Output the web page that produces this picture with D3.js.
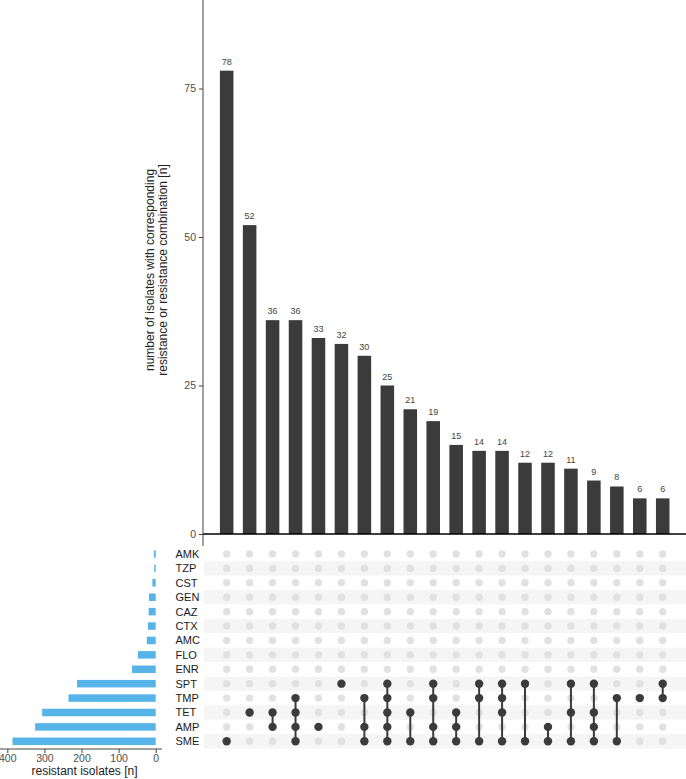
<!DOCTYPE html>
<html>
<head>
<meta charset="utf-8">
<script src="https://cdn.jsdelivr.net/npm/d3@7"></script>
<style>
  body { margin: 0; background: #fff; }
  svg { font-family: "Liberation Sans", Arial, sans-serif; }
</style>
</head>
<body>
<div id="chart"></div>
<script>
// sets, top to bottom in the matrix
let setNames = ["AMK", "TZP", "CST", "GEN", "CAZ", "CTX", "AMC", "FLO", "ENR", "SPT", "TMP", "TET", "AMP", "SME"];
let setSizes = [5, 4, 9, 18, 19, 21, 24, 48, 64, 212, 235, 306, 325, 386];

// intersections, left to right
let comboCounts = [78, 52, 36, 36, 33, 32, 30, 25, 21, 19, 15, 14, 14, 12, 12, 11, 9, 8, 6, 6];
let comboSets = [
  ["SME"],
  ["TET"],
  ["TET", "AMP"],
  ["TMP", "TET", "AMP", "SME"],
  ["AMP"],
  ["SPT"],
  ["TMP", "AMP", "SME"],
  ["SPT", "TMP", "TET", "AMP", "SME"],
  ["TET", "SME"],
  ["SPT", "TMP", "AMP", "SME"],
  ["TET", "AMP", "SME"],
  ["SPT", "TMP", "SME"],
  ["SPT", "TMP", "TET", "SME"],
  ["SPT", "SME"],
  ["AMP", "SME"],
  ["SPT", "TET", "SME"],
  ["SPT", "TET", "AMP", "SME"],
  ["TMP", "SME"],
  ["TMP"],
  ["SPT", "TMP"]
];
let yTicks = [0, 25, 50, 75];
let sizeTicks = [0, 100, 200, 300, 400];

let svgWidth = 686;
let svgHeight = 779;

let svg = d3.select("#chart").append("svg")
  .attr("width", svgWidth).attr("height", svgHeight);

// matrix layout
let matLeft = 203, matRight = 686;
let x = d3.scaleBand()
  .domain(d3.range(comboCounts.length))
  .range([215.2, 674.2])
  .paddingInner(0.41).paddingOuter(0.205);
let rowY = d3.scalePoint()
  .domain(setNames)
  .range([554, 741.3]);
let rowH = 14.4;

// top bar chart
let yTop = 534;
let y = d3.scaleLinear().domain([0, 90]).range([yTop, yTop - 90 * 5.94]);

let barG = svg.append("g");
barG.selectAll("rect")
  .data(comboCounts)
  .enter()
  .append("rect")
  .attr("x", (d, i) => x(i))
  .attr("y", d => y(d))
  .attr("width", x.bandwidth())
  .attr("height", d => y(0) - y(d))
  .attr("fill", "#3b3b3b");

barG.selectAll("text")
  .data(comboCounts)
  .enter()
  .append("text")
  .attr("x", (d, i) => x(i) + x.bandwidth() / 2)
  .attr("y", d => y(d) - 6)
  .attr("text-anchor", "middle")
  .attr("font-size", "9px")
  .attr("fill", "#444")
  .text(d => d);

// baseline
svg.append("line")
  .attr("x1", matLeft).attr("x2", matRight)
  .attr("y1", y(0)).attr("y2", y(0))
  .attr("stroke", "#000").attr("stroke-width", 1.6);

// y axis
let yAxis = svg.append("g")
  .attr("transform", `translate(${matLeft},0)`)
  .call(d3.axisLeft(y).tickValues(yTicks).tickSize(4).tickPadding(3));
yAxis.select(".domain").remove();
yAxis.selectAll("line").attr("stroke", "#444");
yAxis.selectAll("text").attr("fill", "#4d4d4d").attr("font-size", "10.5px")
  .attr("font-family", "Liberation Sans, Arial, sans-serif");
svg.append("line")
  .attr("x1", matLeft).attr("x2", matLeft)
  .attr("y1", 0).attr("y2", 546)
  .attr("stroke", "#444").attr("stroke-width", 1);

let yLabel = svg.append("text")
  .attr("transform", "translate(154,270) rotate(-90)")
  .attr("text-anchor", "middle")
  .attr("font-size", "12px")
  .attr("fill", "#222");
yLabel.append("tspan").attr("x", 0).attr("dy", "0em").text("number of isolates with corresponding");
yLabel.append("tspan").attr("x", 0).attr("dy", "1.1em").text("resistance or resistance combination [n]");

// matrix stripes
svg.append("g").selectAll("rect")
  .data(setNames.filter((d, i) => i % 2 === 1))
  .enter()
  .append("rect")
  .attr("x", matLeft + 1)
  .attr("y", d => rowY(d) - rowH / 2)
  .attr("width", matRight - matLeft - 1)
  .attr("height", rowH)
  .attr("fill", "#f5f5f5");

// matrix dots
let cells = [];
comboSets.forEach(function(sets, i) {
  setNames.forEach(function(s) {
    cells.push({ col: i, set: s, on: sets.indexOf(s) >= 0 });
  });
});

let matG = svg.append("g");
matG.selectAll("circle.off")
  .data(cells.filter(d => !d.on))
  .enter()
  .append("circle")
  .attr("cx", d => x(d.col) + x.bandwidth() / 2)
  .attr("cy", d => rowY(d.set))
  .attr("r", 3.7)
  .attr("fill", "#e1e1e1");

matG.selectAll("line")
  .data(comboSets.filter(s => s.length > 1))
  .enter()
  .append("line")
  .attr("x1", d => x(comboSets.indexOf(d)) + x.bandwidth() / 2)
  .attr("x2", d => x(comboSets.indexOf(d)) + x.bandwidth() / 2)
  .attr("y1", d => d3.min(d, s => rowY(s)))
  .attr("y2", d => d3.max(d, s => rowY(s)))
  .attr("stroke", "#3b3b3b")
  .attr("stroke-width", 2);

matG.selectAll("circle.on")
  .data(cells.filter(d => d.on))
  .enter()
  .append("circle")
  .attr("cx", d => x(d.col) + x.bandwidth() / 2)
  .attr("cy", d => rowY(d.set))
  .attr("r", 4.2)
  .attr("fill", "#3b3b3b");

// set names
svg.append("g").selectAll("text")
  .data(setNames)
  .enter()
  .append("text")
  .attr("x", 175.5)
  .attr("y", d => rowY(d))
  .attr("dy", "0.36em")
  .attr("font-size", "11px")
  .attr("fill", "#1a1a1a")
  .text(d => d);

// set size bars
let sx = d3.scaleLinear().domain([0, 400]).range([155.7, 7.3]);
let bh = 7.5;
svg.append("g").selectAll("rect")
  .data(setSizes)
  .enter()
  .append("rect")
  .attr("x", d => sx(d))
  .attr("y", (d, i) => rowY(setNames[i]) - bh / 2)
  .attr("width", d => sx(0) - sx(d))
  .attr("height", bh)
  .attr("fill", "#56b4e9");

let sxAxis = svg.append("g")
  .attr("transform", "translate(0,749)")
  .call(d3.axisBottom(sx).tickValues(sizeTicks).tickSize(4).tickPadding(2));
sxAxis.select(".domain").remove();
sxAxis.selectAll("line").attr("stroke", "#444");
sxAxis.selectAll("text").attr("fill", "#4d4d4d").attr("font-size", "10.5px")
  .attr("font-family", "Liberation Sans, Arial, sans-serif");
svg.append("line")
  .attr("x1", 0).attr("x2", 162)
  .attr("y1", 749).attr("y2", 749)
  .attr("stroke", "#444");

svg.append("text")
  .attr("x", 84.5)
  .attr("y", 775)
  .attr("text-anchor", "middle")
  .attr("font-size", "12px")
  .attr("fill", "#222")
  .text("resistant isolates [n]");
</script>
</body>
</html>
